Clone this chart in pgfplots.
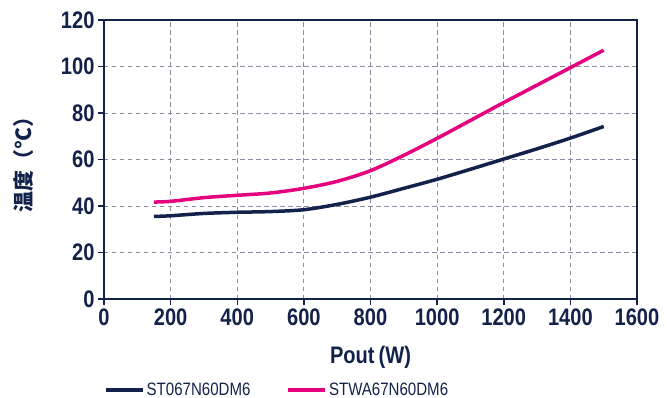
\documentclass[border=0pt]{standalone}
\usepackage{pgfplots}
\pgfplotsset{compat=1.18}
\usetikzlibrary{calc}
\usepackage{fontspec}
\setmainfont{Liberation Sans}[FakeStretch=0.84]
\newfontfamily\cjk{Noto Sans CJK SC}
\definecolor{navy}{HTML}{13224A}
\definecolor{mag}{HTML}{E5007D}
\definecolor{gridc}{HTML}{8C8CA0}
\begin{document}
\begin{tikzpicture}
\begin{axis}[
 scale only axis, width=533bp, height=279bp,
 xmin=0,xmax=1600,ymin=0,ymax=120,
 xtick={0,200,...,1600}, ytick={0,20,...,120},
 grid=major,
 major grid style={gridc, line width=0.9bp, dash pattern=on 4.5bp off 3.5bp},
 axis line style={navy, line width=1.8bp},
 tick style={navy, line width=1.5bp},
 tick align=outside, tick pos=left, major tick length=6bp,
 ticklabel style={font=\fontsize{24}{24}\selectfont\bfseries, text=navy},
 /pgf/number format/assume math mode=true,
 /pgf/number format/1000 sep={},
 xlabel={Pout\,(W)},
 xlabel style={font=\fontsize{24}{24}\selectfont\bfseries, text=navy, yshift=-14bp},
 ylabel={\cjk\bfseries 温度（°C）},
 ylabel style={font=\fontsize{21}{21}\selectfont, text=navy, yshift=20bp},
 legend style={at={(0,-0.326)}, anchor=west, draw=none, fill=none, inner sep=0pt,
   legend columns=2, font=\fontsize{18}{18}\selectfont, text=navy,
   /tikz/every even column/.append style={column sep=34bp},
   nodes={inner sep=2bp}},
 legend image code/.code={\draw[#1, line width=3.5bp] (0bp,0bp) -- (37bp,0bp);},
]
\addplot[navy, line width=3.5bp, smooth] coordinates {
(150,35.5)(200,35.8)(300,36.8)(400,37.3)(500,37.6)(600,38.4)(700,40.7)(800,43.8)(900,47.6)(1000,51.5)(1100,55.8)(1200,60.2)(1300,64.6)(1400,69.2)(1500,74.2)};
\addlegendentry{ST067N60DM6}
\addplot[mag, line width=3.5bp, smooth] coordinates {
(150,41.7)(200,42.0)(300,43.6)(400,44.6)(500,45.6)(600,47.6)(700,50.6)(800,55.2)(900,61.8)(1000,69.1)(1100,76.8)(1200,84.5)(1300,92.0)(1400,99.5)(1500,107.0)};
\addlegendentry{STWA67N60DM6}
\coordinate (sw) at (rel axis cs:0,0);
\coordinate (ne) at (rel axis cs:1,1);
\end{axis}
\pgfresetboundingbox
\path ($(sw)+(-104bp,-99bp)$) rectangle ($(ne)+(32bp,20bp)$);
\end{tikzpicture}
\end{document}
